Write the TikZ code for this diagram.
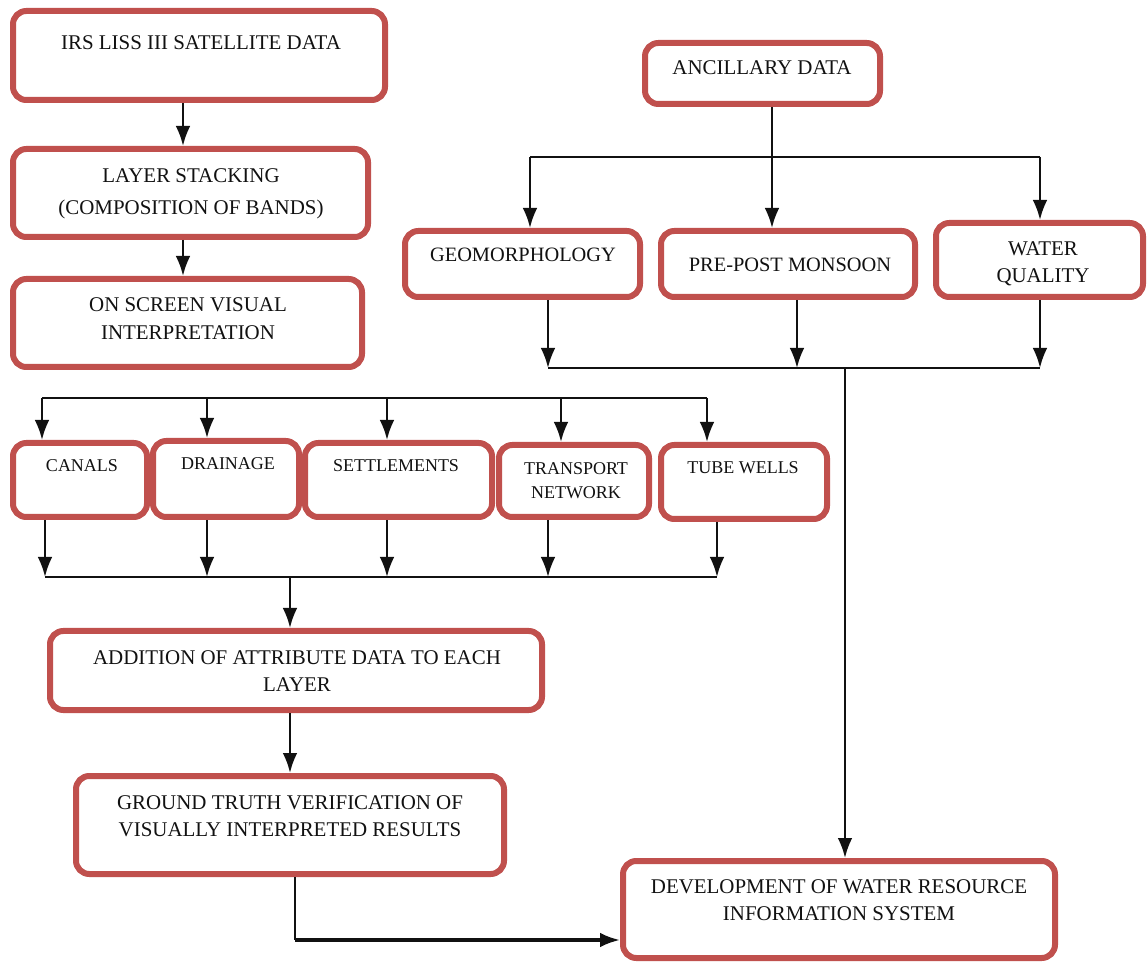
\documentclass[tikz,border=0pt]{standalone}
\usepackage{fontspec}
\setmainfont{Liberation Serif}
\usetikzlibrary{positioning,fit,arrows.meta}
\definecolor{boxred}{HTML}{C0504D}
\definecolor{ink}{HTML}{111111}

\tikzset{
  blok/.style={draw=boxred,line width=4.5pt,rounded corners=10pt,fill=white,inner sep=0pt},
  lbl/.style={font=\fontsize{15.7}{20}\selectfont,text=ink,align=center,inner sep=0pt},
  lblsm/.style={lbl,font=\fontsize{13.5}{18}\selectfont},
  wire/.style={ink,line width=1.8pt},
  arr/.style={wire,-{Latex[length=15pt,width=11pt]}}
}

\begin{document}
\begin{tikzpicture}[x=0.75pt,y=-0.75pt]
  \useasboundingbox (0,0) rectangle (1147,962);

  % --- columna izquierda ---
  \node[blok,fit={(13,11) (385,100)}] (irs) {};
  \node[blok,fit={(13,149) (368,237)}] (stack) {};
  \node[blok,fit={(13,279) (362,367)}] (screen) {};
  \node[lbl] (irs-t) at (201,43) {IRS LISS III SATELLITE DATA};
  \node[lbl,font=\fontsize{15.7}{24}\selectfont] (stack-t) at (191,194)
    {LAYER STACKING\\(COMPOSITION OF BANDS)};
  \node[lbl,font=\fontsize{15.7}{21}\selectfont] (screen-t) at (188,319)
    {ON SCREEN VISUAL\\INTERPRETATION};

  % --- datos auxiliares ---
  \node[blok,fit={(645,43) (880,104)}] (anc) {};
  \node[blok,fit={(405,231) (640,297)}] (geo) {};
  \node[blok,fit={(661,231) (915,297)}] (mon) {};
  \node[blok,fit={(936,223) (1143,297)}] (water) {};
  \node[lbl] (anc-t) at (762,68) {ANCILLARY DATA};
  \node[lbl,font=\fontsize{15.3}{20}\selectfont] (geo-t) at (523,255) {GEOMORPHOLOGY};
  \node[lbl,font=\fontsize{15.3}{20}\selectfont] (mon-t) at (790,265) {PRE-POST MONSOON};
  \node[lbl] (water-t) at (1043,264) {WATER\\QUALITY};

  % --- capas ---
  \node[blok,fit={(13,443) (147,517)}] (canals) {};
  \node[blok,fit={(153,441) (299,517)}] (drain) {};
  \node[blok,fit={(305,443) (492,517)}] (settle) {};
  \node[blok,fit={(499,445) (649,517)}] (trans) {};
  \node[blok,fit={(661,445) (827,519)}] (tube) {};
  \node[lblsm] (canals-t) at (82,466) {CANALS};
  \node[lblsm] (drain-t) at (228,464) {DRAINAGE};
  \node[lblsm] (settle-t) at (396,466) {SETTLEMENTS};
  \node[lblsm] (trans-t) at (576,481) {TRANSPORT\\NETWORK};
  \node[lblsm] (tube-t) at (743,468) {TUBE WELLS};

  % --- parte inferior ---
  \node[blok,fit={(50,631) (542,710)}] (add) {};
  \node[blok,fit={(76,776) (504,874)}] (gt) {};
  \node[blok,fit={(623,861) (1055,958)}] (dev) {};
  \node[lbl] (add-t) at (297,671) {ADDITION OF ATTRIBUTE DATA TO EACH\\LAYER};
  \node[lbl] (gt-t) at (290,816) {GROUND TRUTH VERIFICATION OF\\VISUALLY INTERPRETED RESULTS};
  \node[lbl] (dev-t) at (839,900) {DEVELOPMENT OF WATER RESOURCE\\INFORMATION SYSTEM};

  % --- flechas columna izquierda ---
  \coordinate (lx) at (183,0);
  \draw[arr] (lx |- irs.south) -- (lx |- stack.north);
  \draw[arr] (lx |- stack.south) -- (lx |- screen.north);

  % --- reparto de datos auxiliares ---
  \coordinate (ax) at (772,157);
  \coordinate (abL) at (530,157);
  \coordinate (abR) at (1040,157);
  \draw[wire] (ax |- anc.south) -- (ax);
  \draw[wire] (abL) -- (abR);
  \draw[arr] (abL) -- (abL |- geo.north);
  \draw[arr] (ax) -- (ax |- mon.north);
  \draw[arr] (abR) -- (abR |- water.north);

  \coordinate (rbL) at (548,368);
  \coordinate (rbM) at (797,368);
  \coordinate (rbR) at (1040,368);
  \coordinate (rx) at (845,368);
  \draw[arr] (rbL |- geo.south) -- (rbL);
  \draw[arr] (rbM |- mon.south) -- (rbM);
  \draw[arr] (rbR |- water.south) -- (rbR);
  \draw[wire] (rbL) -- (rbR);
  \draw[arr] (rx) -- (rx |- dev.north);

  % --- reparto a las capas ---
  \coordinate (tb1) at (42,398);
  \coordinate (tb2) at (207,398);
  \coordinate (tb3) at (387,398);
  \coordinate (tb4) at (561,398);
  \coordinate (tb5) at (707,398);
  \draw[wire] (tb1) -- (tb5);
  \draw[arr] (tb1) -- (tb1 |- canals.north);
  \draw[arr] (tb2) -- (tb2 |- drain.north);
  \draw[arr] (tb3) -- (tb3 |- settle.north);
  \draw[arr] (tb4) -- (tb4 |- trans.north);
  \draw[arr] (tb5) -- (tb5 |- tube.north);

  \coordinate (bb1) at (45,577);
  \coordinate (bb2) at (207,577);
  \coordinate (bb3) at (387,577);
  \coordinate (bb4) at (548,577);
  \coordinate (bb5) at (717,577);
  \draw[arr] (bb1 |- canals.south) -- (bb1);
  \draw[arr] (bb2 |- drain.south) -- (bb2);
  \draw[arr] (bb3 |- settle.south) -- (bb3);
  \draw[arr] (bb4 |- trans.south) -- (bb4);
  \draw[arr] (bb5 |- tube.south) -- (bb5);
  \draw[wire] (bb1) -- (bb5);

  % --- hacia abajo ---
  \coordinate (bx) at (290,577);
  \draw[arr] (bx) -- (bx |- add.north);
  \draw[arr] (gt.north |- add.south) -- (gt.north);
  \coordinate (gx) at (295,940);
  \draw[wire] (gx |- gt.south) -- (gx);
  \draw[arr,line width=2.4pt] (gx) -- (gx -| dev.west);
\end{tikzpicture}
\end{document}
